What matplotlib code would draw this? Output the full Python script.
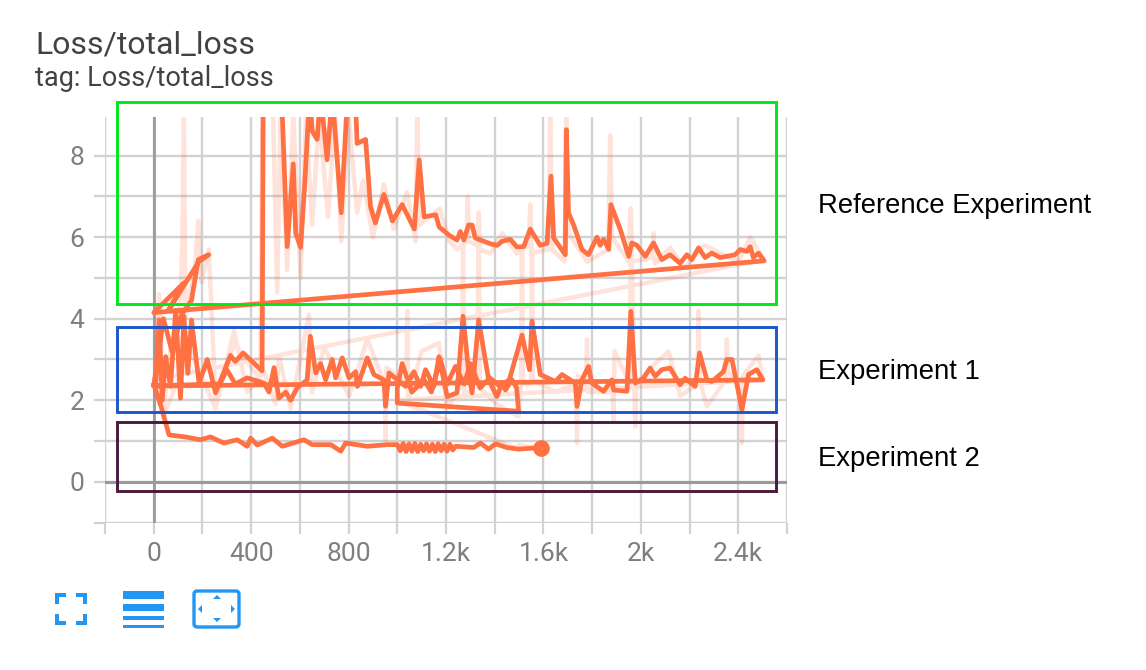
import matplotlib
matplotlib.use("Agg")
import matplotlib.pyplot as plt
from matplotlib.patches import Rectangle, FancyBboxPatch, Polygon

# ---- chart text ----
title_text = "Loss/total_loss"
subtitle_text = "tag: Loss/total_loss"
x_ticks = [-200, 0, 200, 400, 600, 800, 1000, 1200, 1400, 1600, 1800, 2000, 2200, 2400, 2600]
x_labels = ["", "0", "", "400", "", "800", "", "1.2k", "", "1.6k", "", "2k", "", "2.4k", ""]
y_ticks = [-1, 0, 1, 2, 3, 4, 5, 6, 7, 8]
y_labels = ["", "0", "", "2", "", "4", "", "6", "", "8"]

# ---- smoothed curve, in drawing order ----
first_x = [8, 22, 35, 49, 69, 90, 110, 124, 140, 155, 186, 220, 254, 315, 335, 367, 445]
first_y = [2.34, 3.97, 2.0, 3.07, 2.34, 4.2, 2.05, 4.06, 2.66, 3.97, 2.42, 3.0, 2.18, 3.1, 2.95, 3.16, 2.72]

ref_x = [452, 490, 528, 548, 573, 583, 603, 620, 640, 651, 671, 685, 712, 733, 770, 795, 830, 835, 870, 890,
         910, 945, 980, 1020, 1070, 1090, 1110, 1158, 1172, 1213, 1245, 1259, 1273, 1293, 1307, 1320, 1382, 1410,
         1430, 1464, 1491, 1519, 1546, 1587, 1615, 1631, 1642, 1690, 1694, 1703, 1724, 1758, 1785, 1820, 1833,
         1847, 1868, 1877, 1915, 1950, 1963, 1984, 2018, 2052, 2086, 2120, 2161, 2189, 2209, 2237, 2264, 2291,
         2326, 2387, 2408, 2435, 2449, 2462, 2483, 2506]
ref_y = [13.0, 11.0, 9.0, 5.77, 7.8, 6.1, 5.75, 7.3, 9.5, 8.6, 8.4, 9.5, 7.9, 9.5, 6.6, 9.4, 9.1, 8.3, 8.4, 6.75,
         6.35, 7.05, 6.4, 6.8, 6.2, 7.9, 6.5, 6.55, 6.25, 6.05, 5.93, 6.14, 5.93, 6.3, 6.3, 5.98, 5.84, 5.8,
         5.9, 5.95, 5.76, 5.77, 6.2, 5.8, 5.85, 7.5, 5.98, 5.57, 8.64, 6.6, 6.3, 5.7, 5.57, 6.0, 5.8,
         5.95, 5.7, 6.8, 6.2, 5.53, 5.86, 5.8, 5.53, 5.86, 5.45, 5.57, 5.36, 5.57, 5.45, 5.74, 5.5, 5.61,
         5.5, 5.57, 5.7, 5.65, 5.77, 5.5, 5.61, 5.42]

ramp_x = [0, 124, 60, 185, 226, 183, 155, 114, 75, 40, 0]
ramp_y = [4.15, 4.88, 4.2, 5.4, 5.57, 5.45, 4.45, 4.1, 3.2, 4.0, 2.35]

band_a_x = [254, 270, 300, 335, 384, 453, 473, 494, 514, 542, 562, 589, 630, 643, 665, 685, 706, 733, 747, 774,
            802, 829, 836, 877, 904, 945, 952, 966, 1000, 1034, 1068, 1096, 1116, 1150, 1171, 1205, 1245, 1270,
            1293, 1307, 1334, 1375, 1409, 1430, 1444, 1471, 1490, 1498, 1000]
band_a_y = [2.4, 2.38, 2.75, 2.4, 2.55, 2.42, 2.2, 2.8, 2.05, 2.2, 2.0, 2.3, 2.5, 3.57, 2.67, 2.9, 2.5, 3.0, 2.55, 3.04,
            2.55, 2.7, 2.34, 3.04, 2.63, 2.5, 1.85, 2.67, 2.5, 2.34, 2.7, 2.34, 2.75, 2.34, 3.07, 2.09, 2.18, 4.06,
            2.7, 2.18, 3.97, 2.5, 2.09, 2.42, 2.25, 2.5, 2.3, 1.73, 1.93]

band_b_x = [1000, 1020, 1060, 1110, 1140, 1177, 1204, 1239, 1275, 1300, 1340, 1380, 1420, 1460, 1512, 1543, 1553,
            1587, 1649, 1676, 1731, 1738, 1758, 1785, 1799, 1847, 1881, 1888, 1943, 1959, 1977, 2011, 2038, 2059,
            2086, 2120, 2161, 2182, 2223, 2241, 2271, 2292, 2339, 2353, 2374, 2415, 2442, 2476, 2501, 0]
band_b_y = [2.3, 2.9, 2.2, 2.5, 2.2, 3.0, 2.4, 2.83, 2.4, 2.9, 2.3, 2.55, 2.35, 2.5, 3.6, 2.75, 3.94,
            2.63, 2.46, 2.63, 2.42, 1.85, 2.5, 2.83, 2.42, 2.22, 2.5, 2.25, 2.22, 4.18, 2.42, 2.54, 2.79, 2.59,
            2.75, 2.79, 2.38, 2.54, 2.34, 3.16, 2.5, 2.46, 2.7, 3.0, 3.0, 1.77, 2.63, 2.75, 2.5, 2.35]

low_x = [0, 30, 63, 100, 130, 192, 233, 288, 343, 384, 398, 425, 487, 528, 617, 651, 727, 768, 788, 877, 959,
         1000, 1012, 1024, 1036, 1048, 1060, 1072, 1084, 1096, 1108, 1120, 1132, 1144, 1156, 1168, 1180, 1192,
         1204, 1216, 1228, 1239, 1314, 1341, 1375, 1403, 1450, 1498, 1590]
low_y = [2.4, 1.85, 1.15, 1.12, 1.1, 1.03, 1.1, 0.95, 1.03, 0.87, 1.07, 0.9, 1.07, 0.87, 1.03, 0.91, 0.91, 0.75, 0.95, 0.87, 0.91,
         0.91, 0.76, 0.94, 0.74, 0.93, 0.75, 0.94, 0.74, 0.92, 0.76, 0.93, 0.75, 0.92, 0.74, 0.93, 0.76, 0.92,
         0.75, 0.92, 0.78, 0.87, 0.84, 0.95, 0.8, 0.93, 0.84, 0.8, 0.84]

# ---- raw (faint) curve ----
raw_x = [8, 22, 40, 70, 110, 118, 124, 130, 170, 183, 196, 226, 254, 330, 437, 452, 490, 507, 520, 548, 573, 603, 625, 650,
         680, 715, 745, 770, 800, 835, 860, 900, 945, 985, 1040, 1075, 1082, 1090, 1175, 1213, 1245, 1284, 1289, 1294, 1328, 1334,
         1340, 1382, 1430, 1491, 1540, 1546, 1552, 1620, 1628, 1636, 1686, 1694, 1702, 1780, 1866, 1874, 1882, 1950, 1957, 1964, 2046, 2052,
         2058, 2120, 2180, 2260, 2400, 2449, 2506,
         0, 40, 122, 150, 254, 330, 384, 453, 500, 514, 562, 637, 650, 700, 802, 877, 948, 952, 956, 1037, 1041, 1045, 1100, 1171,
         1205, 1265, 1270, 1275, 1329, 1334, 1339, 1409, 1498, 1508, 1512, 1516, 1549, 1553, 1557, 1649, 1734, 1738, 1742, 1775, 1779, 1783, 1884, 1888, 1892,
         1955, 1959, 1973, 1977, 1981, 2059, 2114, 2161, 2233, 2237, 2241, 2271, 2349, 2353, 2357, 2411, 2415, 2419, 2483, 2501,
         1000, 1498, 1500, 1590]
raw_y = [3.0, 4.6, 1.8, 3.3, 4.4, 6.0, 9.0, 4.0, 5.3, 6.4, 4.9, 5.7, 2.0, 3.4, 2.5, 13.0, 9.0, 4.65, 9.0, 5.2, 9.0, 5.0, 9.0,
         6.3, 9.0, 6.5, 9.0, 5.9, 9.0, 6.6, 7.4, 6.0, 7.3, 6.2, 7.1, 5.9, 9.2, 6.3, 6.7, 5.9, 5.7, 5.9, 7.0, 5.9, 5.8, 6.6,
         5.7, 5.6, 6.1, 5.6, 5.8, 6.8, 5.6, 5.7, 9.1, 5.7, 5.4, 9.2, 6.1, 5.4, 5.7, 8.5, 6.0, 5.4, 6.7, 5.4, 5.5, 6.1,
         5.35, 5.75, 5.25, 5.8, 5.4, 6.0, 5.45,
         2.5, 1.6, 2.8, 3.2, 1.8, 3.7, 2.2, 2.7, 1.9, 3.1, 1.8, 4.1, 2.2, 3.3, 2.1, 3.5, 2.4, 1.0, 2.8, 2.4, 4.2, 2.0, 3.2, 3.4,
         1.8, 2.4, 5.8, 2.1, 2.4, 6.6, 2.3, 1.9, 1.6, 2.4, 5.7, 2.4, 2.4, 5.7, 2.5, 2.2, 2.4, 0.95, 2.6, 2.4, 3.5, 2.2, 2.2, 1.5, 3.2,
         2.4, 6.7, 2.4, 1.35, 2.4, 2.9, 3.2, 2.1, 2.4, 4.2, 2.5, 1.85, 2.5, 3.5, 2.7, 2.3, 0.95, 2.6, 3.1, 2.5,
         2.0, 0.8, 0.9, 0.82]

# ---- colours ----
line_color = "#ff7043"
grid_color = "#d2d2d2"
axis_color = "#9a9a9a"
text_color = "#424242"
tick_color = "#7f7f7f"
icon_color = "#2196f3"

W, H = 1146, 670
plt.rcParams["font.family"] = ["Roboto", "DejaVu Sans"]
fig = plt.figure(figsize=(W / 100, H / 100), dpi=100, facecolor="white")
ax = fig.add_axes([105 / W, 1 - 522.5 / H, (787 - 105) / W, (522.5 - 117) / H])
ax.set_xlim(-200, 2600)
ax.set_ylim(-1, 8.95)
for s in ax.spines.values():
    s.set_visible(False)
ax.set_xticks(x_ticks, x_labels)
ax.set_yticks(y_ticks, y_labels)
ax.tick_params(axis="x", length=8, width=1.6, color=grid_color, labelcolor=tick_color, labelsize=19, pad=6)
ax.tick_params(axis="y", length=8, width=1.6, color=grid_color, labelcolor=tick_color, labelsize=19, pad=7)
ax.grid(True, color=grid_color, lw=1.7, zorder=1)
ax.axvline(0, color=axis_color, lw=2, zorder=1.2)
ax.axhline(0, color=axis_color, lw=2.2, zorder=1.2)
ax.set_axisbelow(True)

ax.plot(raw_x, raw_y, color=line_color, alpha=0.2, lw=3.2, solid_joinstyle="round", zorder=2)
smooth_x = first_x + ref_x + ramp_x + band_a_x + band_b_x + low_x
smooth_y = first_y + ref_y + ramp_y + band_a_y + band_b_y + low_y
ax.plot(smooth_x, smooth_y, color=line_color, lw=3.4, solid_joinstyle="round", zorder=3)
ax.plot(low_x[-1:], low_y[-1:], "o", color=line_color, ms=12, mew=0, zorder=4)

# ---- overlay in pixel space: titles, boxes, icons ----
ov = fig.add_axes([0, 0, 1, 1], facecolor="none")
ov.set_xlim(0, W)
ov.set_ylim(H, 0)
ov.axis("off")
ov.text(35, 45, title_text, fontsize=23, color=text_color, va="center", ha="left")
ov.text(35, 78, subtitle_text, fontsize=19.5, color=text_color, va="center", ha="left")

boxes = [("#00e81c", 102, 304, "Reference Experiment", 206),
         ("#1c56c8", 327, 412, "Experiment 1", 372),
         ("#4a1a3c", 422, 491, "Experiment 2", 459)]
for col, top, bot, label, ly in boxes:
    ov.add_patch(Rectangle((117, top), 776 - 117, bot - top, fill=False, ec=col, lw=2.1))
    ov.text(818, ly, label, fontsize=19.85, color="black", family="Liberation Sans", va="center", ha="left")

# fullscreen icon
for x0, x1, sx in [(55, 87, 1), (87, 55, -1)]:
    for y0, sy in [(593, 1), (625, -1)]:
        ov.add_patch(Rectangle((min(x0, x0 + sx * 11), min(y0, y0 + sy * 4)), 11, 4, fc=icon_color, ec="none"))
        ov.add_patch(Rectangle((min(x0, x0 + sx * 4), min(y0, y0 + sy * 11)), 4, 11, fc=icon_color, ec="none"))
# list icon
for top, h in [(591, 8), (604, 7), (616, 4), (625, 2.5)]:
    ov.add_patch(Rectangle((123, top), 41, h, fc=icon_color, ec="none"))
# fit-to-domain icon
ov.add_patch(FancyBboxPatch((194, 591), 45, 36, boxstyle="round,pad=0,rounding_size=3",
                            fill=False, ec=icon_color, lw=2.4))
for pts in [[(213, 599), (221, 599), (217, 595)], [(213, 618), (221, 618), (217, 622)],
            [(202, 605), (202, 613), (198, 609)], [(231, 605), (231, 613), (235, 609)]]:
    ov.add_patch(Polygon(pts, fc=icon_color, ec="none"))

fig.savefig("out.png", dpi=100, facecolor="white")
